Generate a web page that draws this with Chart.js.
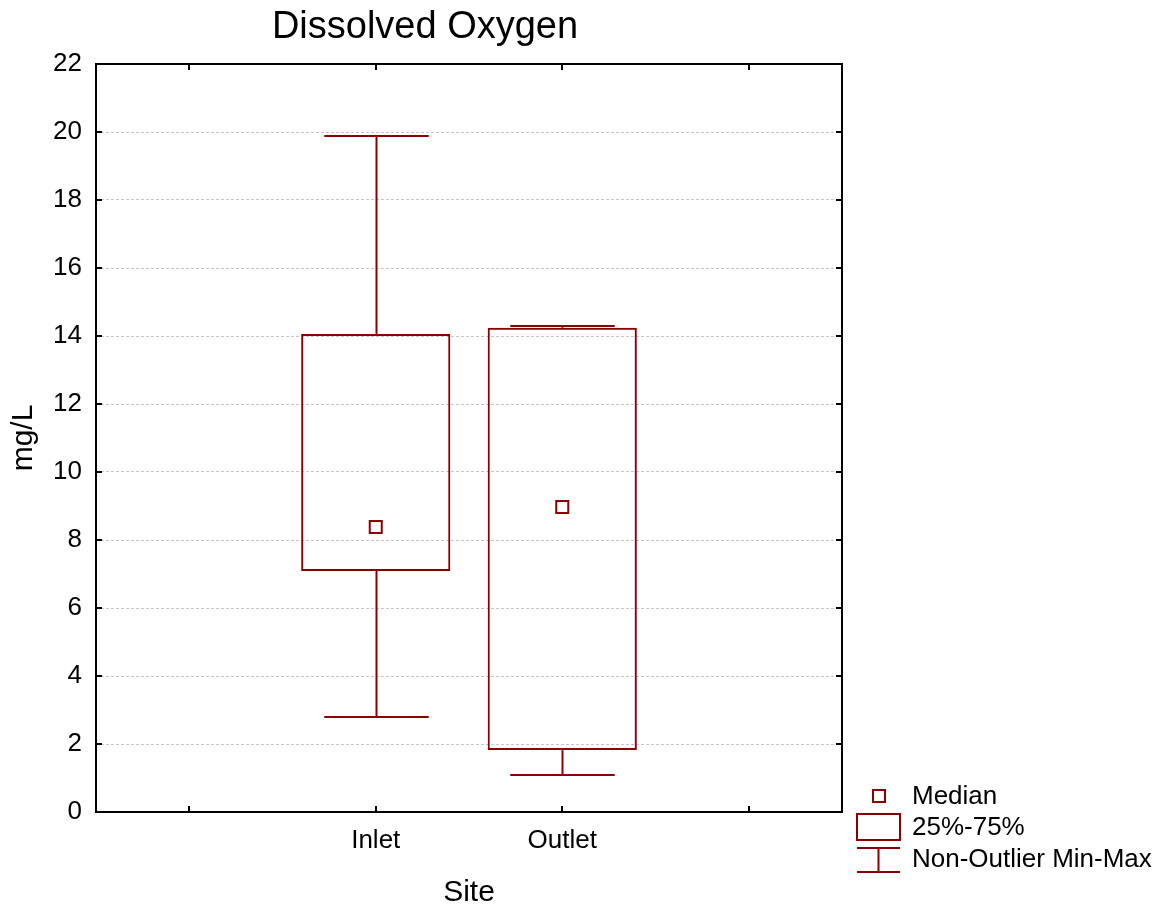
<!DOCTYPE html>
<html>
<head>
<meta charset="utf-8">
<title>Dissolved Oxygen</title>
<script src="https://cdn.jsdelivr.net/npm/chart.js@4.4.1/dist/chart.umd.min.js"></script>
<style>
  html, body { margin: 0; padding: 0; background: #ffffff; }
  #wrap { width: 1159px; height: 907px; }
</style>
</head>
<body>
<div id="wrap"><canvas id="doChart" width="1159" height="907"></canvas></div>
<script>
/* ── Box plot data (mg/L) ── */
const sites   = ['', 'Inlet', 'Outlet', ''];
const medians = [null, 8.38, 8.97, null];
const q1      = [null, 7.09, 1.82, null];
const q3      = [null, 14.06, 14.24, null];
const mins    = [null, 2.79, 1.09, null];
const maxs    = [null, 19.88, 14.29, null];

const yMin = 0, yMax = 22, yStep = 2;

const RED  = '#8b0000';
const FONT = "'Liberation Sans', Arial, sans-serif";

/* ── Whiskers with end caps ── */
const whiskerPlugin = {
  id: 'whiskers',
  afterDatasetsDraw(chart) {
    const { ctx } = chart;
    const y = chart.scales.y;
    const meta = chart.getDatasetMeta(0);
    ctx.save();
    ctx.strokeStyle = RED;
    ctx.lineWidth = 2;
    meta.data.forEach((bar, i) => {
      if (maxs[i] == null) return;
      const cx = Math.round(bar.x) + 0.5;
      const half = bar.width * 0.35;
      const seg = (a, b) => {
        const pa = y.getPixelForValue(a), pb = Math.round(y.getPixelForValue(b));
        ctx.beginPath();
        ctx.moveTo(cx, pa);
        ctx.lineTo(cx, pb);
        ctx.stroke();
        ctx.beginPath();
        ctx.moveTo(cx - half, pb);
        ctx.lineTo(cx + half, pb);
        ctx.stroke();
      };
      seg(q3[i], maxs[i]);
      seg(q1[i], mins[i]);
    });
    ctx.restore();
  }
};

/* ── Frame, inward ticks, title and legend ── */
const framePlugin = {
  id: 'frame',
  afterDraw(chart) {
    const { ctx, chartArea: a } = chart;
    const x = chart.scales.x, y = chart.scales.y;
    const tl = 6;
    ctx.save();
    ctx.strokeStyle = '#000';
    ctx.lineWidth = 2;
    ctx.strokeRect(a.left, a.top, a.right - a.left, a.bottom - a.top);

    ctx.beginPath();
    y.ticks.forEach((t, i) => {
      const py = Math.round(y.getPixelForTick(i));
      ctx.moveTo(a.left, py);  ctx.lineTo(a.left + tl, py);
      ctx.moveTo(a.right, py); ctx.lineTo(a.right - tl, py);
    });
    x.ticks.forEach((t, i) => {
      const px = Math.round(x.getPixelForTick(i));
      ctx.moveTo(px, a.bottom); ctx.lineTo(px, a.bottom - tl);
      ctx.moveTo(px, a.top);    ctx.lineTo(px, a.top + tl);
    });
    ctx.stroke();

    // chart title
    ctx.fillStyle = '#000';
    ctx.font = '38px ' + FONT;
    ctx.textAlign = 'center';
    ctx.textBaseline = 'middle';
    ctx.fillText('Dissolved Oxygen', 425, 28);

    // legend
    const lx = a.right + 15, lw = 43, cx = lx + lw / 2, tx = a.right + 70;
    const by = a.bottom;
    ctx.strokeStyle = RED;
    ctx.lineWidth = 2;
    ctx.strokeRect(Math.round(cx) - 6, by - 22, 12, 12);
    ctx.strokeRect(lx, by + 2, lw, 26);
    ctx.beginPath();
    ctx.moveTo(lx, by + 36);      ctx.lineTo(lx + lw, by + 36);
    ctx.moveTo(cx, by + 36);      ctx.lineTo(cx, by + 60);
    ctx.moveTo(lx, by + 60);      ctx.lineTo(lx + lw, by + 60);
    ctx.stroke();

    ctx.font = '26px ' + FONT;
    ctx.textAlign = 'left';
    ctx.fillText('Median', tx, by - 15);
    ctx.fillText('25%-75%', tx, by + 16);
    ctx.fillText('Non-Outlier Min-Max', tx, by + 48);
    ctx.restore();
  }
};

new Chart(document.getElementById('doChart'), {
  type: 'bar',
  data: {
    labels: sites,
    datasets: [
      {
        type: 'bar',
        label: '25%-75%',
        data: sites.map((s, i) => q1[i] == null ? null : [q1[i], q3[i]]),
        backgroundColor: 'rgba(0,0,0,0)',
        borderColor: RED,
        borderWidth: 2,
        borderSkipped: false,
        barPercentage: 0.8,
        categoryPercentage: 1.0
      },
      {
        type: 'line',
        label: 'Median',
        data: medians,
        showLine: false,
        pointStyle: 'rect',
        pointRadius: 8.5,
        pointHoverRadius: 8.5,
        pointBorderWidth: 2,
        borderColor: RED,
        backgroundColor: 'rgba(0,0,0,0)'
      }
    ]
  },
  options: {
    responsive: false,
    animation: false,
    devicePixelRatio: 1,
    layout: { padding: { left: 0, right: 317, top: 64, bottom: 0 } },
    plugins: {
      legend: { display: false },
      tooltip: { enabled: false }
    },
    scales: {
      x: {
        offset: true,
        grid: { display: false, drawTicks: false },
        border: { display: false },
        ticks: { color: '#000', font: { family: FONT, size: 26 }, padding: 13 },
        title: {
          display: true, text: 'Site', color: '#000',
          font: { family: FONT, size: 30 }, padding: { top: 0, bottom: -4 }
        },
        afterFit: s => { s.height = 95; }
      },
      y: {
        min: yMin,
        max: yMax,
        grid: { color: '#c4c4c4', lineWidth: 1, drawTicks: false },
        border: { display: false, dash: [3, 2] },
        ticks: { stepSize: yStep, color: '#000', font: { family: FONT, size: 26 }, padding: 14 },
        title: {
          display: true, text: 'mg/L', color: '#000',
          font: { family: FONT, size: 30 }, padding: { top: 6, bottom: 0 }
        },
        afterFit: s => { s.width = 96; }
      }
    }
  },
  plugins: [whiskerPlugin, framePlugin]
});
</script>
</body>
</html>
